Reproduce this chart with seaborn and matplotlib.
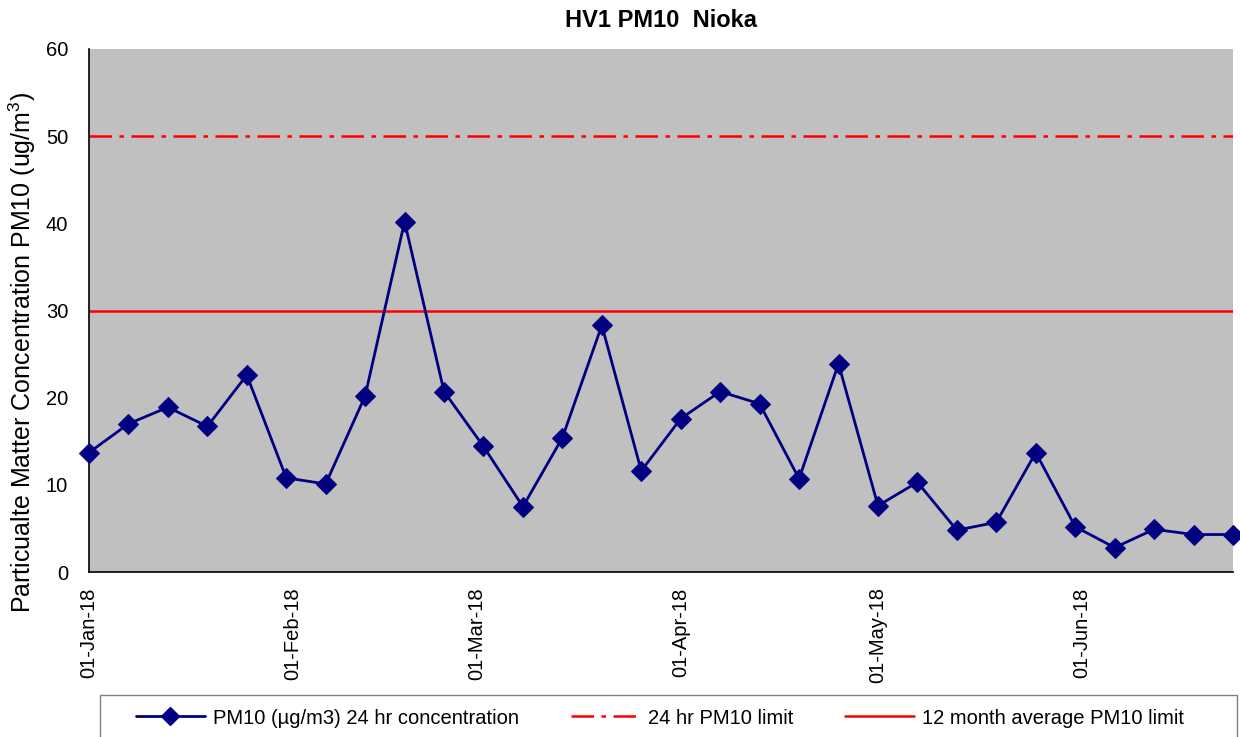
import matplotlib
matplotlib.use("Agg")
import matplotlib.pyplot as plt
import matplotlib.dates as mdates
from matplotlib.lines import Line2D
from matplotlib.patches import Rectangle
import seaborn as sns
import pandas as pd

# ---- data ----
start_date = "2018-01-01"
n_samples = 30
sample_interval_days = 6
pm10_values = [13.7, 17.0, 18.9, 16.7, 22.6, 10.8, 10.1, 20.2, 40.2, 20.7,
               14.4, 7.5, 15.4, 28.3, 11.6, 17.6, 20.7, 19.3, 10.7, 23.9,
               7.6, 10.3, 4.8, 5.7, 13.7, 5.2, 2.8, 4.9, 4.3, 4.3]
limit_24hr = 50
limit_12month = 30
month_ticks = ["2018-01-01", "2018-02-01", "2018-03-01", "2018-04-01",
               "2018-05-01", "2018-06-01"]
y_ticks = [0, 10, 20, 30, 40, 50, 60]
title = "HV1 PM10  Nioka"
ylabel = "Particualte Matter Concentration PM10 (ug/m$\\mathregular{^3}$)"
legend_labels = ["PM10 (\u00b5g/m3) 24 hr concentration", "24 hr PM10 limit",
                 "12 month average PM10 limit"]

dates = pd.date_range(start_date, periods=n_samples, freq=f"{sample_interval_days}D")
df = pd.DataFrame({"date": dates, "pm10": pm10_values})

sns.set_style("white")
plt.rcParams["font.family"] = ["Liberation Sans", "DejaVu Sans"]
plt.rcParams["text.color"] = "black"
plt.rcParams["axes.labelcolor"] = "black"

fig = plt.figure(figsize=(12.4, 7.37), dpi=100)
ax = fig.add_axes([89/1240, 1-572/737, (1233-89)/1240, (572-49)/737])
ax.set_facecolor("#C0C0C0")

navy = "#000080"
red = "#FF0000"
dashdot = (0, (9, 3, 1.8, 3))

ax.axhline(limit_24hr, color=red, lw=1.8, linestyle=dashdot, zorder=2)
ax.axhline(limit_12month, color=red, lw=1.8, zorder=2)
sns.lineplot(data=df, x="date", y="pm10", ax=ax, color=navy, lw=2,
             marker="D", markersize=10, markeredgecolor=navy, zorder=3,
             clip_on=False)

ax.set_xlim(dates[0], dates[-1])
ax.set_ylim(0, 60)
ax.set_yticks(y_ticks)
ax.set_xticks(pd.to_datetime(month_ticks))
ax.xaxis.set_major_formatter(mdates.DateFormatter("%d-%b-%y"))
for lbl in ax.get_xticklabels():
    lbl.set_rotation(90)
ax.tick_params(axis="both", which="major", direction="out", length=8, width=1,
               color="black", labelsize=14.5, labelcolor="black", pad=7)
ax.tick_params(axis="x", pad=3)

for s in ["top", "right"]:
    ax.spines[s].set_visible(False)
for s in ["left", "bottom"]:
    ax.spines[s].set_color("black")
    ax.spines[s].set_linewidth(1.2)

ax.set_xlabel("")
ax.set_ylabel(ylabel, fontsize=18, color="black")
ax.yaxis.set_label_coords(-0.045, 0.42)
ax.set_title(title, fontsize=17, fontweight="bold", pad=16, color="black")
ax.grid(False)

# legend frame
fig.patches.append(Rectangle((100/1240, -0.01), 1137/1240, 1-695/737+0.01,
                             transform=fig.transFigure, facecolor="white",
                             edgecolor="#808080", lw=1, zorder=0))
handles = [
    Line2D([], [], color=navy, lw=2, marker="D", markersize=9),
    Line2D([], [], color=red, lw=1.8, linestyle=dashdot),
    Line2D([], [], color=red, lw=1.8),
]
leg = fig.legend(handles, legend_labels, loc="center",
                 bbox_to_anchor=(660/1240, 1-718/737),
                 ncol=3, frameon=False, fontsize=14.5,
                 handlelength=3.4, columnspacing=2.6, handletextpad=0.4,
                 borderaxespad=0)

fig.savefig("out.png", dpi=100)
